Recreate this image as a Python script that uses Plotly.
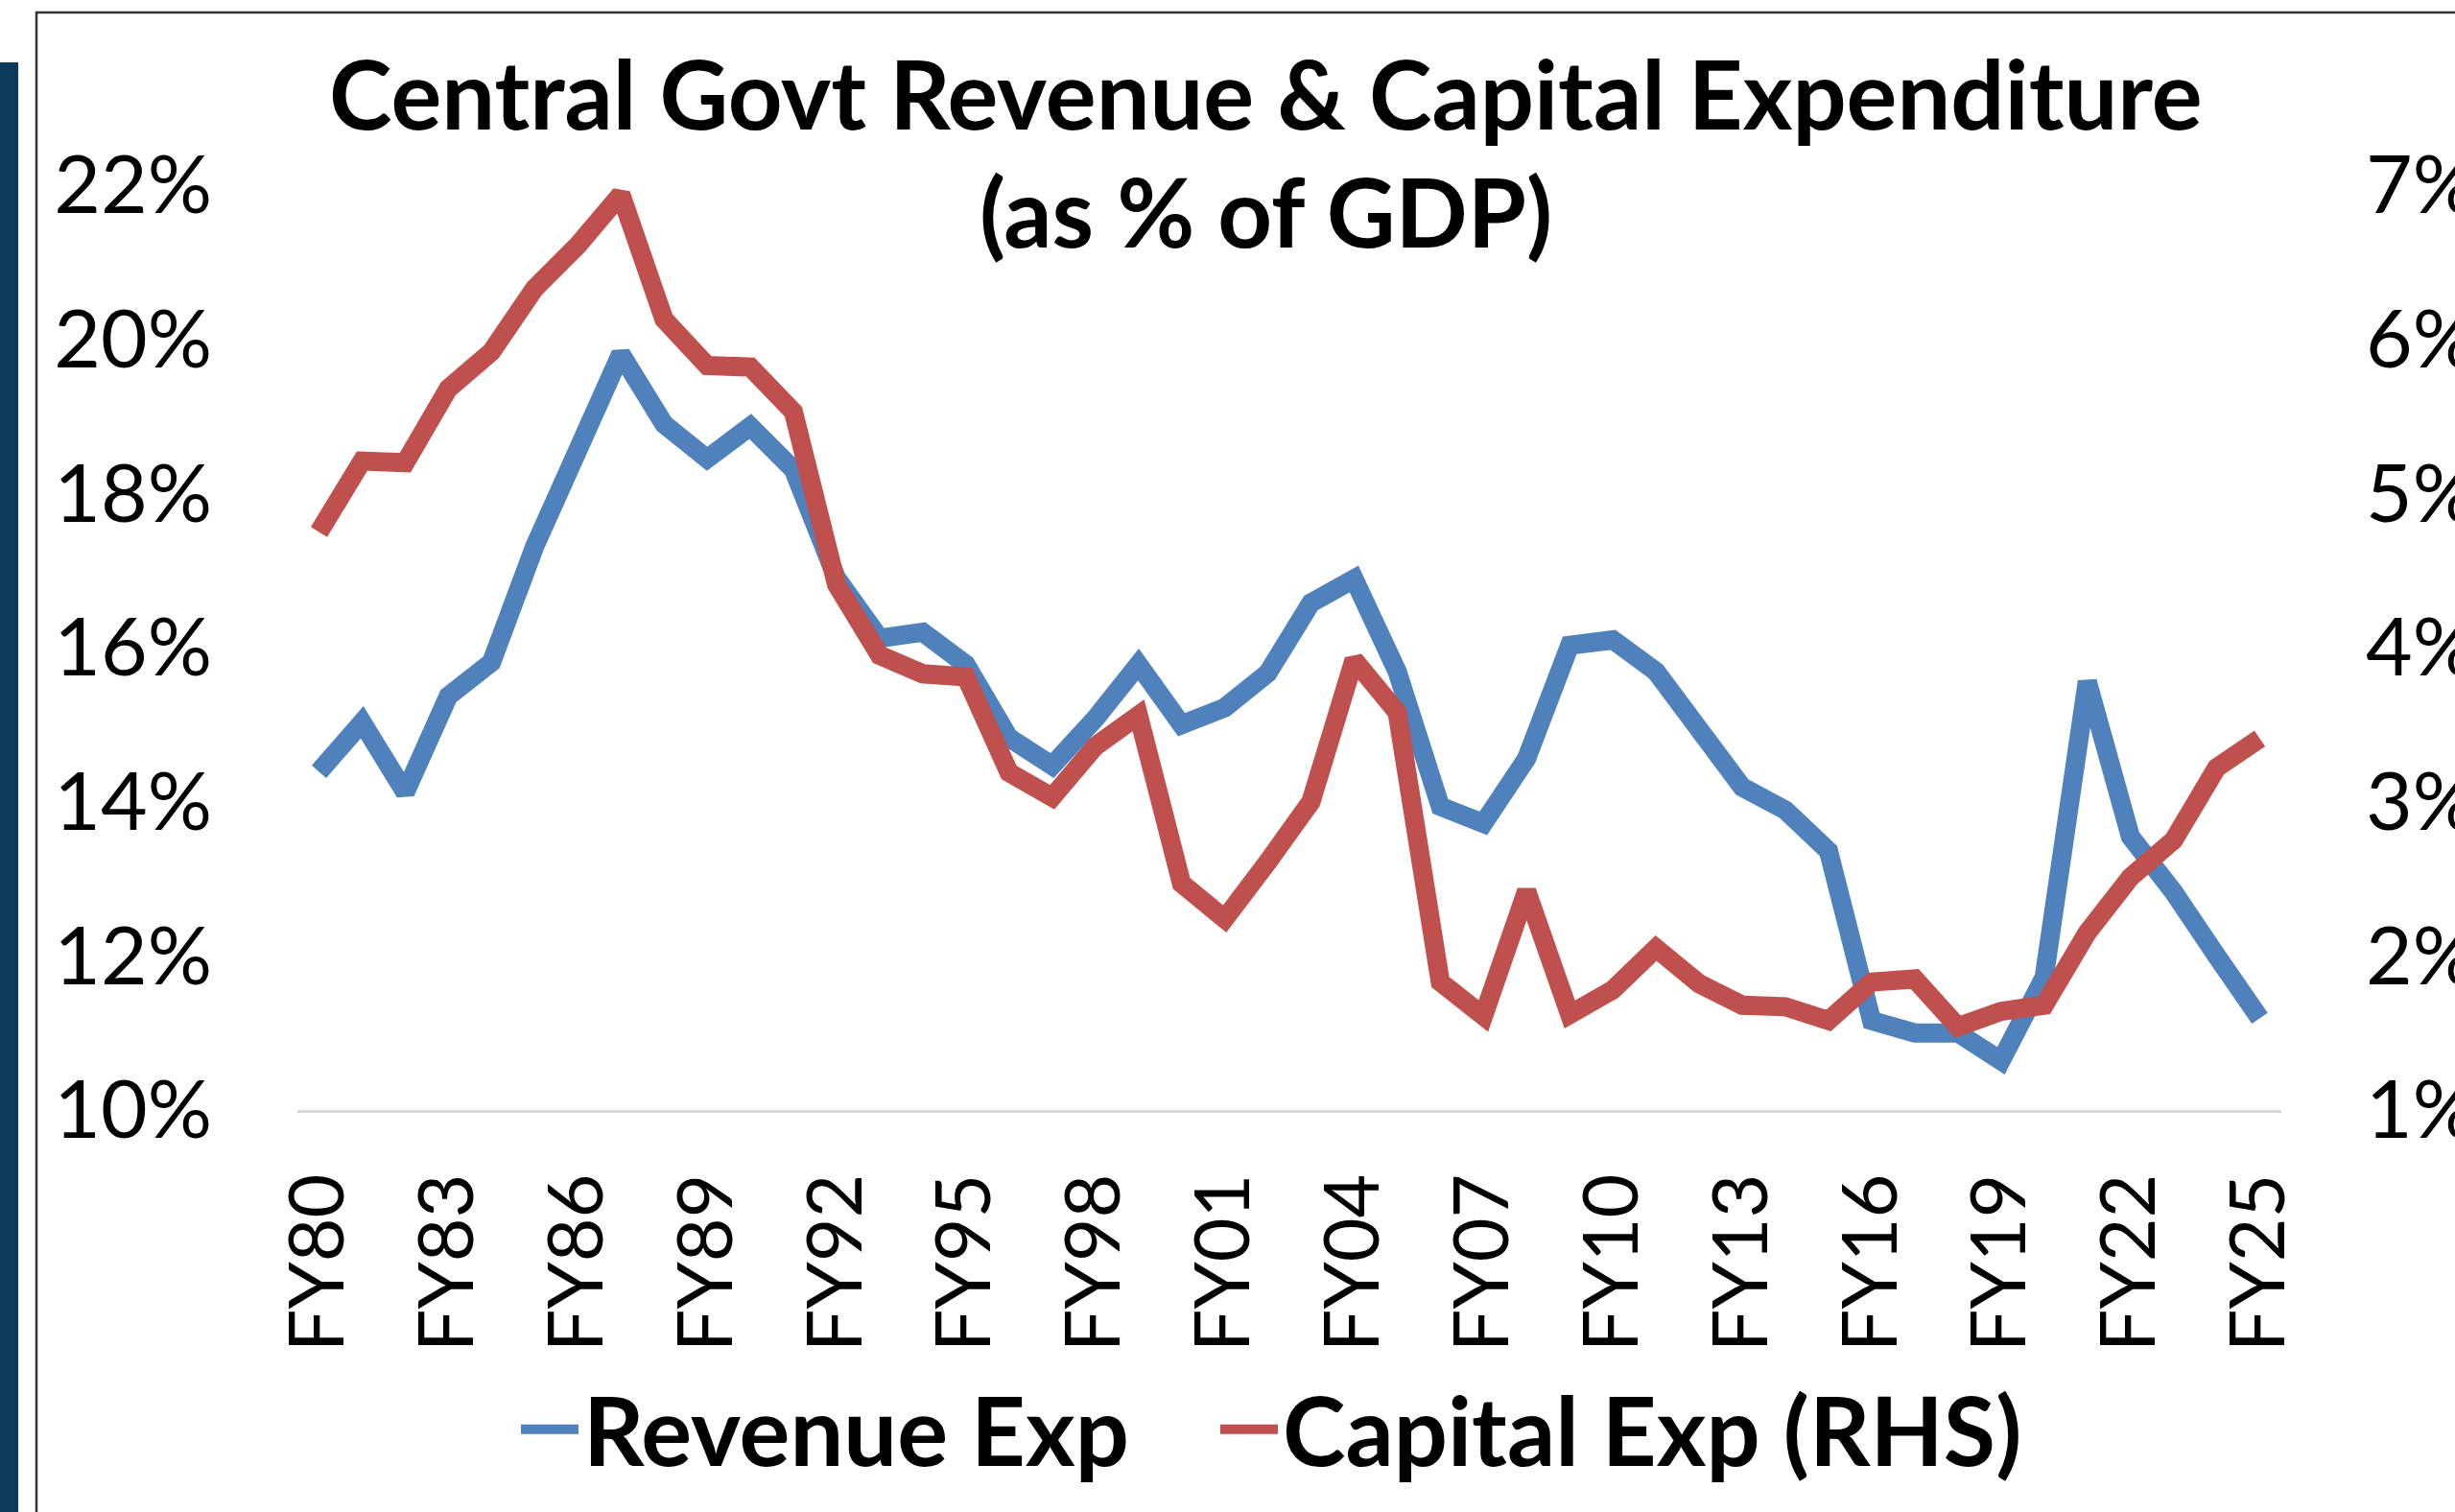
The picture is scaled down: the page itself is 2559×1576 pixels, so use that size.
import plotly.graph_objects as go

# Fiscal years on the category axis
fiscal_years = [f"FY{y % 100:02d}" for y in range(1980, 2026)]
tick_years = fiscal_years[::3]

# Central govt revenue expenditure, % of GDP (left axis)
revenue_exp = [
    14.39, 15.03, 14.12, 15.37, 15.81, 17.31, 18.56, 19.81, 18.90, 18.45,
    18.87, 18.31, 16.90, 16.12, 16.20, 15.78, 14.83, 14.47, 15.08, 15.78,
    15.00, 15.22, 15.67, 16.58, 16.89, 15.69, 13.94, 13.72, 14.56, 16.03,
    16.10, 15.69, 14.94, 14.19, 13.89, 13.36, 11.16, 11.00, 11.00, 10.64,
    11.72, 15.56, 13.55, 12.83, 12.00, 11.19,
]

# Central govt capital expenditure, % of GDP (right axis)
capital_exp = [
    4.75, 5.21, 5.20, 5.68, 5.92, 6.33, 6.61, 6.94, 6.13, 5.83,
    5.82, 5.53, 4.41, 3.95, 3.83, 3.81, 3.19, 3.03, 3.36, 3.56,
    2.47, 2.24, 2.61, 3.00, 3.92, 3.58, 1.83, 1.61, 2.42, 1.62,
    1.78, 2.05, 1.82, 1.68, 1.67, 1.58, 1.83, 1.85, 1.54, 1.64,
    1.68, 2.15, 2.51, 2.75, 3.22, 3.41,
]

BLUE = "#4F81BD"
RED = "#C0504D"
FONT = "Lato"

W, H = 2559, 1576
PW, PH = 2068, 964
ML, MT = 310, 193
MR, MB = W - ML - PW, H - MT - PH


# helpers: screen pixel -> paper fraction
def px_x(px):
    return (px - ML) / PW


def px_y(py):
    return (MT + PH - py) / PH


def legend_box(x_px):
    return dict(
        orientation="h",
        x=px_x(x_px),
        xanchor="left",
        y=px_y(1490),
        yanchor="middle",
        font=dict(family=FONT, size=99, color="black", weight="bold"),
        itemwidth=60,
        bgcolor="rgba(0,0,0,0)",
    )


fig = go.Figure()

fig.add_trace(
    go.Scatter(
        x=fiscal_years,
        y=revenue_exp,
        name="Revenue Exp",
        mode="lines",
        line=dict(color=BLUE, width=20),
        legend="legend",
    )
)
fig.add_trace(
    go.Scatter(
        x=fiscal_years,
        y=capital_exp,
        name="Capital Exp (RHS)",
        mode="lines",
        line=dict(color=RED, width=20),
        yaxis="y2",
        legend="legend2",
    )
)

fig.update_layout(
    width=W,
    height=H,
    margin=dict(l=ML, r=MR, t=MT, b=MB, autoexpand=False),
    plot_bgcolor="white",
    paper_bgcolor="white",
    font=dict(family=FONT, size=84, color="black"),
    showlegend=True,
    legend=legend_box(538),
    legend2=legend_box(1267),
    xaxis=dict(
        type="category",
        range=[-0.5, len(fiscal_years) - 0.5],
        tickmode="array",
        tickvals=tick_years,
        ticktext=tick_years,
        tickangle=-90,
        showgrid=False,
        zeroline=False,
        showline=True,
        linecolor="#D9D9D9",
        linewidth=3,
        ticks="",
        automargin=False,
        ticklabelstandoff=32,
        tickfont=dict(family=FONT, size=79),
    ),
    yaxis=dict(
        range=[10, 22],
        dtick=2,
        ticksuffix="%",
        showgrid=False,
        zeroline=False,
        showline=False,
        ticks="",
        automargin=False,
        ticklabelstandoff=88,
        tickfont=dict(family=FONT, size=84),
    ),
    yaxis2=dict(
        range=[1, 7],
        dtick=1,
        ticksuffix="%",
        overlaying="y",
        side="right",
        showgrid=False,
        zeroline=False,
        showline=False,
        ticks="",
        automargin=False,
        ticklabelstandoff=87,
        tickfont=dict(family=FONT, size=84),
    ),
    annotations=[
        dict(
            text="Central Govt Revenue & Capital Expenditure",
            xref="paper", yref="paper",
            x=px_x(1319), y=px_y(97),
            xanchor="center", yanchor="middle",
            showarrow=False,
            font=dict(family=FONT, size=99, color="black", weight="bold"),
        ),
        dict(
            text="(as % of GDP)",
            xref="paper", yref="paper",
            x=px_x(1319), y=px_y(219),
            xanchor="center", yanchor="middle",
            showarrow=False,
            font=dict(family=FONT, size=99, color="black", weight="bold"),
        ),
    ],
    shapes=[
        # dark side bar
        dict(
            type="rect", xref="paper", yref="paper", layer="below",
            x0=px_x(-20), x1=px_x(19), y0=px_y(1620), y1=px_y(65),
            fillcolor="#0C3A5C", line=dict(width=0),
        ),
        # chart frame
        dict(
            type="rect", xref="paper", yref="paper", layer="below",
            x0=px_x(38), x1=px_x(2620), y0=px_y(1620), y1=px_y(13),
            fillcolor="rgba(0,0,0,0)", line=dict(color="#333333", width=2.5),
        ),
    ],
)

# drop the default page margin so the figure sits flush with the window
fig.write_html(
    "out.html",
    config={"displayModeBar": False},
    post_script="document.body.style.margin = '0';",
)
